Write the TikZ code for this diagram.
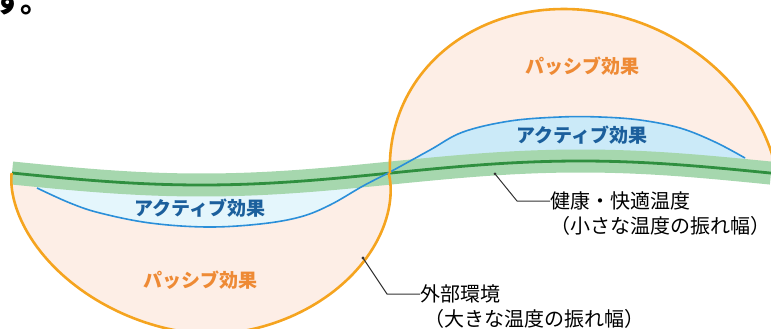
\documentclass[tikz,border=0pt]{standalone}
\usepackage{fontspec}
\setmainfont{Noto Sans CJK JP}
\newfontfamily\jp{Noto Sans CJK JP}
\usetikzlibrary{calc}
\definecolor{pinkfill}{HTML}{FDEEE6}
\definecolor{bluelow}{HTML}{E4F6FC}
\definecolor{blueup}{HTML}{CBEAF8}
\definecolor{bandgreen}{HTML}{A6D7AE}
\definecolor{darkgreen}{HTML}{2F8F3F}
\definecolor{blueline}{HTML}{2A8FD9}
\definecolor{orangeline}{HTML}{F5A41F}
\definecolor{passivetxt}{HTML}{EE8A35}
\definecolor{activetxt}{HTML}{1B5F9C}
\definecolor{leadergray}{HTML}{333333}
\tikzset{
  effect/.style={inner sep=0pt, font=\jp\bfseries\fontsize{19}{19}\selectfont},
  passive/.style={effect, text=passivetxt},
  active/.style={effect, text=activetxt},
  lbl/.style={inner sep=0pt, anchor=west, font=\jp\fontsize{20}{20}\selectfont, text=black},
  leader/.style={draw=leadergray, line width=1pt},
  dotmark/.style={fill=leadergray},
  outline/.style={draw=orangeline, line width=2.6pt},
  lowershape/.style={insert path={plot[domain=0:360,samples=200,variable=\t]
     ({201+189.5*cos(\t)*pow(abs(cos(\t))+0.0001,0.081)+0.07*149*sin(\t)*pow(abs(sin(\t))+0.0001,0.081)},
      {185+149*sin(\t)*pow(abs(sin(\t))+0.0001,0.081)}) -- cycle}},
  uppershape/.style={insert path={plot[domain=0:360,samples=200,variable=\t]
     ({585+194*cos(\t)+21.2*sin(\t)},{186+177*sin(\t)}) -- cycle}},
  belowgreen/.style={insert path={plot[domain=0:780,samples=120] (\x,{gy(\x)}) -- (780,400) -- (0,400) -- cycle}},
  abovegreen/.style={insert path={plot[domain=0:780,samples=120] (\x,{gy(\x)}) -- (780,-20) -- (0,-20) -- cycle}},
}
\begin{document}
\begin{tikzpicture}[x=1pt,y=-1pt,
  declare function={gy(\x)=173+12*sin(0.474934*(\x-12));}]
\clip (0,0) rectangle (771,329);
% lower passive region
\begin{scope}
  \clip[belowgreen];
  \fill[pinkfill, lowershape];
  \fill[bluelow] plot[smooth,tension=0.6] coordinates {(37,188) (70,203) (100,213) (150,223) (207,227) (260,224) (300,217) (330,205) (363,186) (390,172)} -- plot[domain=390:30,samples=60] (\x,{gy(\x)}) -- cycle;
\end{scope}
% upper passive region
\begin{scope}
  \clip[abovegreen];
  \fill[pinkfill, uppershape];
  \fill[blueup] plot[smooth,tension=0.6] coordinates {(390,172) (430,150) (463,132) (510,121) (560,117) (600,117) (640,120) (680,128) (715,142) (745,158)} -- plot[domain=760:390,samples=60] (\x,{gy(\x)}) -- cycle;
\end{scope}
% comfort band
\draw[bandgreen, line width=23pt] plot[domain=12:771,samples=120] (\x,{gy(\x)});
\draw[darkgreen, line width=2.8pt] plot[domain=12:771,samples=120] (\x,{gy(\x)});
% active effect boundary
\draw[blueline, line width=1.6pt] plot[smooth,tension=0.6] coordinates {(37,188) (70,203) (100,213) (150,223) (207,227) (260,224) (300,217) (330,205) (363,186) (390,172) (430,150) (463,132) (510,121) (560,117) (600,117) (640,120) (680,128) (715,142) (745,158)};
% outer environment outlines
\begin{scope}
  \clip[belowgreen];
  \draw[outline, lowershape];
\end{scope}
\begin{scope}
  \clip[abovegreen];
  \draw[outline, uppershape];
\end{scope}
% effect labels
\node[passive] (pU) at (582,66) {パッシブ効果};
\node[passive] (pL) at (200,280) {パッシブ効果};
\node[active] (aU) at (582,135) {アクティブ効果};
\node[active] (aL) at (200,208) {アクティブ効果};
% callouts
\node[lbl] (lH) at (550,201) {健康・快適温度};
\node[lbl] (lH2) at (550,226) {（小さな温度の振れ幅）};
\node[lbl] (lE) at (420,294) {外部環境};
\node[lbl] (lE2) at (424,319) {（大きな温度の振れ幅）};
\coordinate (dH) at (495,{gy(495)+10});
\coordinate (kH) at (517,201);
\coordinate (dE) at (363,258);
\coordinate (kE) at (387,294);
\draw[leader] (dH) -- (kH) -- (kH -| lH.west);
\draw[leader] (dE) -- (kE) -- (kE -| lE.west);
\fill[dotmark] (dH) circle (1.6);
\fill[dotmark] (dE) circle (1.6);
% fragment of the preceding text line
\node[anchor=base west, inner sep=0pt, font=\jp\bfseries\fontsize{30}{30}\selectfont] (frag) at (-6.6,12.6) {す。};
\end{tikzpicture}
\end{document}
